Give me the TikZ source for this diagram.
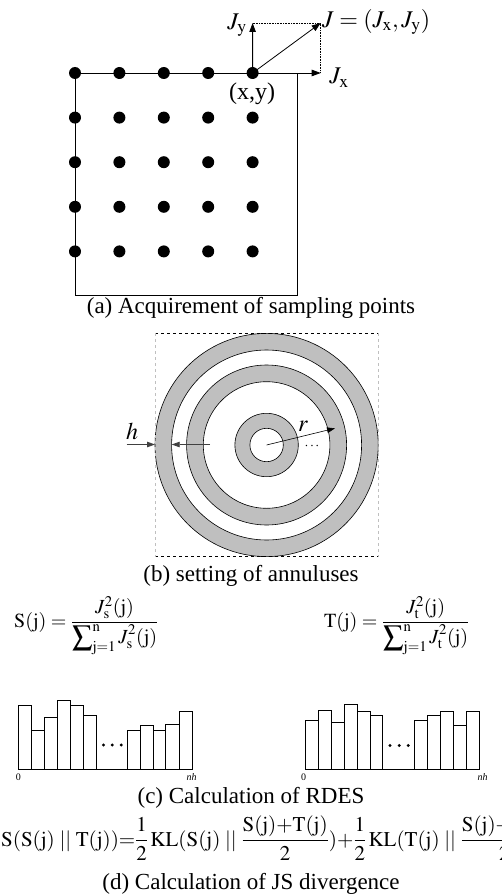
\documentclass[tikz,border=0pt]{standalone}
\usepackage{mathptmx}
\usepackage[no-math]{fontspec}
\setmainfont{Liberation Serif}
\usetikzlibrary{arrows.meta}
\begin{document}
\begin{tikzpicture}[x=1pt,y=-1pt,
  dot/.style={circle,fill=black,inner sep=0pt,minimum size=12pt},
  ln/.style={line width=0.8pt},
  arr/.style={ln,-{Triangle[length=9pt,width=6.5pt]}},
  lbl/.style={inner sep=0pt,font=\fontsize{24}{28}\selectfont},
  caption/.style={inner sep=0pt,anchor=base,font=\fontsize{23}{27}\selectfont},
  frm/.style={inner sep=0pt,anchor=base west,font=\fontsize{20}{24}\selectfont},
  bar/.style={line width=0.6pt},
  ring/.style={fill=black!25,even odd rule},
  circ/.style={line width=0.6pt}]
\useasboundingbox (0,0) rectangle (502,896);
% ---------- (a) sampling points
\foreach \i in {0,...,4}
  \foreach \j in {0,...,4}
    \node[dot] (d\i\j) at ({75+44.4*\i},{73+44.6*\j}) {};
\coordinate (rbl) at (75,295.7);
\coordinate (rbr) at (297,295.7);
\coordinate (rtr) at (297,73);
\coordinate (jx) at (320.7,73);
\coordinate (jy) at (252.6,23);
\coordinate (jj) at (320.7,23);
\draw[ln] (d00.center) -- (rbl) -- (rbr) -- (rtr);
\draw[arr] (d00.center) -- (jx);
\draw[arr] (d40.center) -- (jy);
\draw[arr] (d40.center) -- (jj);
\draw[densely dotted, line width=0.6pt] (jy) -- (jj) -- (jx);
\node[lbl] (lJy) at (237,25) {$J_{\mathrm{y}}$};
\node[lbl,anchor=west] (lJ) at (322,22) {$J=(J_{\mathrm{x}},J_{\mathrm{y}})$};
\node[lbl] (lJx) at (339,78) {$J_{\mathrm{x}}$};
\node[lbl] (lxy) at (252,94) {(x,y)};
\node[caption] (capa) at (251,313) {(a) Acquirement of sampling points};
% ---------- (b) annuluses
\coordinate (oc) at (266.6,445);
\fill[ring] (oc) circle[radius=111.6pt] circle[radius=95pt];
\fill[ring] (oc) circle[radius=80pt] circle[radius=63.3pt];
\fill[ring] (oc) circle[radius=31.7pt] circle[radius=16.7pt];
\foreach \r in {111.6,95,80,63.3,31.7,16.7}
  \draw[circ] (oc) circle[radius=\r pt];
\coordinate (sqtl) at (155,333.4);
\coordinate (sqtr) at (378.2,333.4);
\coordinate (sqbl) at (155,556.6);
\coordinate (sqbr) at (378.2,556.6);
\draw[dashed, line width=0.6pt] (sqtl) -- (sqtr);
\draw[dashed, line width=0.6pt] (sqbl) -- (sqbr);
\draw[dashed, black!25, line width=0.6pt] (sqtl) -- (sqbl);
\draw[dashed, black!25, line width=0.6pt] (sqtr) -- (sqbr);
\coordinate (hs1) at (126.7,444.5);
\coordinate (ht1) at (155,444.5);
\coordinate (hs2) at (210,444.5);
\coordinate (ht2) at (171.7,444.5);
\draw[line width=0.8pt, black!75, -{Triangle[length=8pt,width=5.5pt]}] (hs1) -- (ht1);
\draw[line width=0.8pt, black!75, -{Triangle[length=8pt,width=5.5pt]}] (hs2) -- (ht2);
\node[lbl] (lh) at (132,431) {$h$};
\coordinate (rtip) at (335,428.3);
\draw[line width=0.6pt, -{Triangle[length=8pt,width=5.5pt]}] (oc) -- (rtip);
\node[lbl] (lr) at (303,426) {$r$};
\node[inner sep=0pt,font=\fontsize{14}{16}\selectfont] (ldots) at (312,446) {$\cdots$};
\node[caption] (capb) at (251,581) {(b) setting of annuluses};
% ---------- (c) RDES
\node[frm] (fS) at (14,627) {$\mathrm{S(j)}=\displaystyle\frac{J_{\mathrm{s}}^{2}(\mathrm{j})}{\displaystyle\sum\nolimits_{\mathrm{j=1}}^{\mathrm{n}} J_{\mathrm{s}}^{2}(\mathrm{j})}$};
\node[frm] (fT) at (324,627) {$\mathrm{T(j)}=\displaystyle\frac{J_{\mathrm{t}}^{2}(\mathrm{j})}{\displaystyle\sum\nolimits_{\mathrm{j=1}}^{\mathrm{n}} J_{\mathrm{t}}^{2}(\mathrm{j})}$};
% left histogram
\foreach \a/\b/\t in {18.3/31.7/705.7, 31.7/44.3/730, 44.3/57.5/717.3, 57.5/70.7/700, 70.7/83.3/705.7, 83.3/96.3/715,
                      127/140.3/730, 140.3/153.3/725.7, 153.3/165.7/730, 165.7/179/724.7, 179/192/711.7}
  \draw[bar] (\a,769) rectangle (\b,\t);
\coordinate (hl0) at (18.3,769);
\coordinate (hl1) at (192,769);
\draw[bar] (hl0) -- (hl1);
\foreach \x in {103.5,112.3,121.2} \fill (\x,745) circle[radius=1.6pt];
\node[inner sep=0pt,font=\fontsize{10}{12}\selectfont] (z1) at (18.5,777) {0};
\node[inner sep=0pt,font=\fontsize{10}{12}\selectfont] (n1) at (191.5,777) {\itshape nh};
% right histogram
\foreach \a/\b/\t in {305.5/318/720.7, 318/331/710.3, 331/344.2/722.3, 344.2/357.3/704.2, 357.3/370/711.3, 370/382.7/715.3,
                      414.3/427.3/720.7, 427.3/440/715.5, 440/453/711.3, 453/466/725, 466/479.2/711.3}
  \draw[bar] (\a,769) rectangle (\b,\t);
\coordinate (hr0) at (305.5,769);
\coordinate (hr1) at (479.2,769);
\draw[bar] (hr0) -- (hr1);
\foreach \x in {390,399.2,408.3} \fill (\x,745.5) circle[radius=1.6pt];
\node[inner sep=0pt,font=\fontsize{10}{12}\selectfont] (z2) at (303.5,777) {0};
\node[inner sep=0pt,font=\fontsize{10}{12}\selectfont] (n2) at (482.5,777) {\itshape nh};
\node[caption] (capc) at (251,803) {(c) Calculation of RDES};
% ---------- (d) JS divergence
\node[frm,font=\fontsize{21}{25}\selectfont] (fJS) at (1,846) {$\mathrm{S(S(j)\;||\;T(j))}{=}\displaystyle\frac{1}{2}\,\mathrm{KL(S(j)\;||\;}\frac{\mathrm{S(j){+}T(j)}}{2}\mathrm{)}{+}\frac{1}{2}\,\mathrm{KL(T(j)\;||\;}\frac{\mathrm{S(j){+}T(j)}}{2}$};
\node[caption] (capd) at (251,889) {(d) Calculation of JS divergence};
\end{tikzpicture}
\end{document}
